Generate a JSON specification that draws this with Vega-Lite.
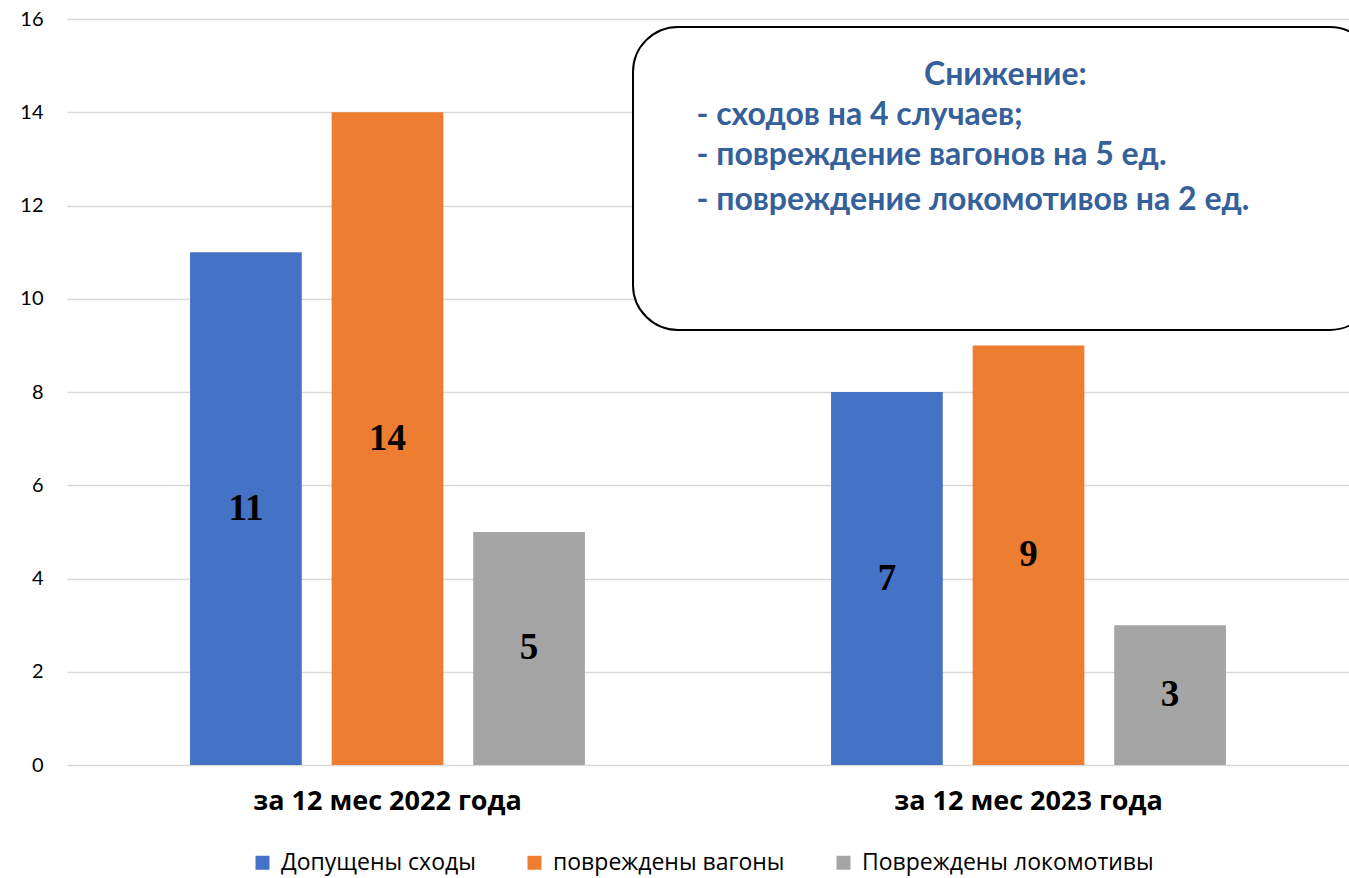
{
  "$schema": "https://vega.github.io/schema/vega-lite/v6.json",
  "width": 1282,
  "height": 746,
  "autosize": {"type": "none"},
  "padding": {"left": 67, "top": 19, "right": 0, "bottom": 113},
  "background": "white",
  "config": {"view": {"stroke": null}, "font": "Lato"},
  "layer": [
    {
      "data": {
        "values": [
          {"period": "за 12 мес 2022 года", "series": "Допущены сходы", "value": 11, "label": "11"},
          {"period": "за 12 мес 2022 года", "series": "повреждены вагоны", "value": 14, "label": "14"},
          {"period": "за 12 мес 2022 года", "series": "Повреждены локомотивы", "value": 5, "label": "5"},
          {"period": "за 12 мес 2023 года", "series": "Допущены сходы", "value": 8, "label": "7"},
          {"period": "за 12 мес 2023 года", "series": "повреждены вагоны", "value": 9, "label": "9"},
          {"period": "за 12 мес 2023 года", "series": "Повреждены локомотивы", "value": 3, "label": "3"}
        ]
      },
      "encoding": {
        "x": {
          "field": "period", "type": "nominal",
          "scale": {"paddingInner": 0.384, "paddingOuter": 0.192},
          "axis": {"title": null, "labelAngle": 0, "domain": false, "ticks": false, "labelFontSize": 27, "labelFontWeight": "bold", "labelColor": "black", "labelPadding": 23, "labelFont": "Open Sans", "labelLimit": 0}
        },
        "xOffset": {
          "field": "series", "type": "nominal",
          "sort": ["Допущены сходы", "повреждены вагоны", "Повреждены локомотивы"],
          "scale": {"paddingInner": 0.211, "paddingOuter": 0}
        }
      },
      "layer": [
        {
          "mark": {"type": "bar"},
          "encoding": {
            "y": {
              "field": "value", "type": "quantitative",
              "scale": {"domain": [0, 16]},
              "axis": {"title": null, "values": [0,2,4,6,8,10,12,14,16], "labelOverlap": false, "domain": false, "ticks": false, "gridColor": "#d9d9d9", "gridWidth": 1.5, "labelFontSize": 20, "labelColor": "black", "labelPadding": 24, "labelFont": "Lato"}
            },
            "color": {
              "field": "series", "type": "nominal",
              "sort": ["Допущены сходы", "повреждены вагоны", "Повреждены локомотивы"],
              "scale": {"domain": ["Допущены сходы", "повреждены вагоны", "Повреждены локомотивы"], "range": ["#4472C4", "#ED7D31", "#A5A5A5"]},
              "legend": {"title": null, "orient": "none", "legendX": 184, "legendY": 832, "direction": "horizontal", "symbolType": "square", "symbolSize": 196, "symbolStrokeWidth": 0, "labelFontSize": 23, "labelColor": "black", "labelFont": "Open Sans", "labelLimit": 0, "columnPadding": 47, "labelOffset": 7}
            }
          }
        },
        {
          "transform": [{"calculate": "datum.value / 2", "as": "mid"}],
          "mark": {"type": "text", "font": "Liberation Serif", "fontWeight": "bold", "fontSize": 37, "color": "black", "baseline": "middle"},
          "encoding": {
            "y": {"field": "mid", "type": "quantitative"},
            "text": {"field": "label"}
          }
        }
      ]
    },
    {
      "data": {"values": [{"x1": 0.4415, "x2": 1.02, "y1": 15.83, "y2": 9.33}]},
      "mark": {"type": "rect", "fill": "white", "stroke": "black", "strokeWidth": 2, "cornerRadius": 45, "clip": false},
      "encoding": {
        "x": {"field": "x1", "type": "quantitative", "scale": {"domain": [0, 1]}, "axis": null},
        "x2": {"field": "x2"},
        "y": {"field": "y1", "type": "quantitative"},
        "y2": {"field": "y2"}
      }
    },
    {
      "data": {
        "values": [
          {"t": "Снижение:", "x": 0.732, "y": 14.8, "align": "center"},
          {"t": "- сходов на 4 случаев;", "x": 0.491, "y": 13.94, "align": "left"},
          {"t": "- повреждение вагонов на 5 ед.", "x": 0.491, "y": 13.08, "align": "left"},
          {"t": "- повреждение локомотивов на 2 ед.", "x": 0.491, "y": 12.12, "align": "left"}
        ]
      },
      "layer": [
        {
          "transform": [{"filter": "datum.align == 'center'"}],
          "mark": {"type": "text", "align": "center", "baseline": "middle", "fontSize": 32, "fontWeight": "bold", "color": "#35609A", "font": "Lato"},
          "encoding": {
            "x": {"field": "x", "type": "quantitative", "scale": {"domain": [0, 1]}, "axis": null},
            "y": {"field": "y", "type": "quantitative"},
            "text": {"field": "t"}
          }
        },
        {
          "transform": [{"filter": "datum.align == 'left'"}],
          "mark": {"type": "text", "align": "left", "baseline": "middle", "fontSize": 32, "fontWeight": "bold", "color": "#35609A", "font": "Lato"},
          "encoding": {
            "x": {"field": "x", "type": "quantitative", "scale": {"domain": [0, 1]}, "axis": null},
            "y": {"field": "y", "type": "quantitative"},
            "text": {"field": "t"}
          }
        }
      ]
    }
  ],
  "resolve": {"scale": {"x": "independent"}}
}
